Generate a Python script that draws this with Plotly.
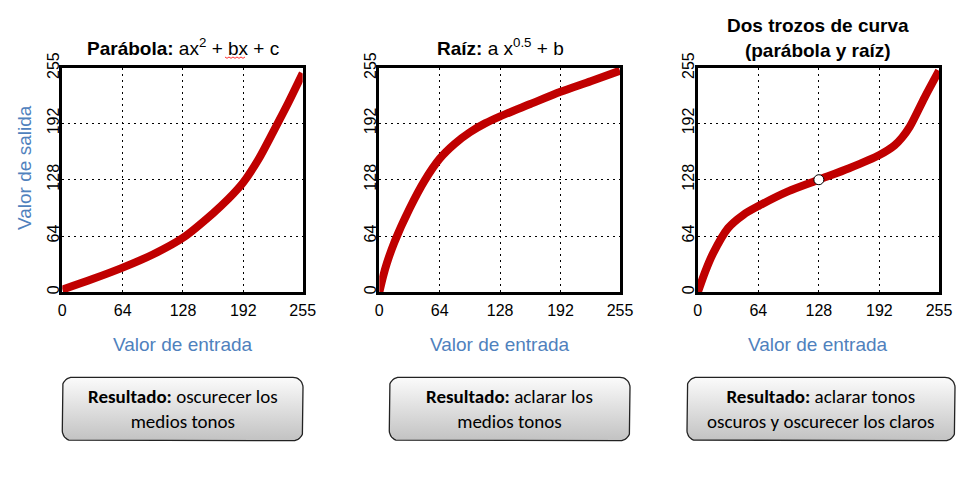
import plotly.graph_objects as go
import numpy as np

# ---------------- data ----------------
ticks = [0, 64, 128, 192, 255]

x_parabola = [0, 32, 64, 96, 128, 160, 176, 192, 208, 224, 240, 255]
y_parabola = [3, 15, 28, 43, 62, 90, 106, 125, 151, 183, 216, 249]

x_raiz = [0, 4, 8, 16, 32, 48, 64, 80, 96, 112, 128, 160, 192, 224, 255]
y_raiz = [0, 18, 33, 57, 95, 127, 152, 169, 182, 192, 200, 214, 228, 240, 252]

x_trozos = [0, 8, 16, 32, 48, 64, 96, 128, 160, 192, 208, 216, 224, 240, 255]
y_trozos = [0, 24, 44, 73, 88, 98, 115, 128, 141, 156, 167, 176, 188, 222, 252]

punto_union = ([128], [128])

titulos = [
    "<b>Parábola:</b> ax<sup>2</sup> + bx + c",
    "<b>Raíz:</b> a x<sup>0.5</sup> + b",
    "<b>Dos trozos de curva<br>(parábola y raíz)</b>",
]
titulo_x = "Valor de entrada"
titulo_y = "Valor de salida"
resultados = [
    "<b>Resultado:</b> oscurecer los<br>medios tonos",
    "<b>Resultado:</b> aclarar los<br>medios tonos",
    "<b>Resultado:</b> aclarar tonos<br>oscuros y oscurecer los claros",
]

# ---------------- layout helpers ----------------
W, H = 964, 477
def px(x):
    return x / W
def py(y):
    return 1 - y / H

panels = [(62.3, 302.7), (379.3, 620.0), (697.8, 939.0)]
ptop, pbot = 68.0, 292.3
boxes = [(62.3, 303.0), (389.3, 630.0), (687.0, 955.0)]
btop, bbot = 377.3, 440.7

RED = "#C00000"
BLUE = "#4F81BD"
FONT = "Liberation Sans, Arial, sans-serif"
BOXFONT = "Carlito, Liberation Sans Narrow, Open Sans, sans-serif"

fig = go.Figure()

series = [(x_parabola, y_parabola), (x_raiz, y_raiz), (x_trozos, y_trozos)]
for i, (xs, ys) in enumerate(series):
    n = "" if i == 0 else str(i + 1)
    fig.add_trace(go.Scatter(x=xs, y=ys, mode="lines",
                             line=dict(color=RED, width=8, shape="spline", smoothing=0.8),
                             xaxis="x" + n, yaxis="y" + n, showlegend=False, hoverinfo="skip"))

fig.add_trace(go.Scatter(x=punto_union[0], y=punto_union[1], mode="markers",
                         marker=dict(color="white", size=10, line=dict(color="black", width=1)),
                         xaxis="x3", yaxis="y3", showlegend=False, hoverinfo="skip"))

# rounded gradient boxes on a pixel overlay axis
def rounded_rect(x0, y0, x1, y1, r):
    pts = []
    corners = [(x1 - r, y0 + r, -90, 0), (x1 - r, y1 - r, 0, 90),
               (x0 + r, y1 - r, 90, 180), (x0 + r, y0 + r, 180, 270)]
    for cx, cy, a0, a1 in corners:
        for a in np.linspace(np.radians(a0), np.radians(a1), 10):
            pts.append((cx + r * np.cos(a), cy + r * np.sin(a)))
    pts.append(pts[0])
    return [p[0] for p in pts], [p[1] for p in pts]

for (bx0, bx1) in boxes:
    xs, ys = rounded_rect(bx0, btop, bx1, bbot, 10)
    fig.add_trace(go.Scatter(x=xs, y=ys, mode="lines", fill="toself",
                             line=dict(color="#222222", width=1.3),
                             fillgradient=dict(type="vertical", start=btop, stop=bbot,
                                               colorscale=[[0, "#FBFBFB"], [1, "#C2C2C2"]]),
                             xaxis="x4", yaxis="y4", showlegend=False, hoverinfo="skip"))

axis_common = dict(range=[0, 255], tickvals=ticks, ticktext=[str(t) for t in ticks],
                   showgrid=True, gridcolor="black", gridwidth=1.3, griddash="2px,4px",
                   zeroline=False, showline=True, linecolor="black", linewidth=3, mirror=True,
                   ticks="", tickfont=dict(family=FONT, size=16, color="black"),
                   fixedrange=True, automargin=False)

layout = dict(width=W, height=H, margin=dict(l=0, r=0, t=0, b=0, pad=0, autoexpand=False),
              paper_bgcolor="white", plot_bgcolor="rgba(0,0,0,0)", showlegend=False)

for i, (x0, x1) in enumerate(panels):
    n = "" if i == 0 else str(i + 1)
    layout["xaxis" + n] = dict(axis_common, domain=[px(x0), px(x1)], anchor="y" + n,
                               ticklabelstandoff=1)
    layout["yaxis" + n] = dict(axis_common, domain=[py(pbot), py(ptop)], anchor="x" + n,
                               tickangle=-90, ticklabelstandoff=-6)

layout["xaxis4"] = dict(domain=[0, 1], range=[0, W], visible=False, anchor="y4",
                        fixedrange=True, automargin=False)
layout["yaxis4"] = dict(domain=[0, 1], range=[H, 0], visible=False, anchor="x4",
                        fixedrange=True, automargin=False)

fig.update_layout(**layout)

ann = []
# titles
tpos = [(183, 47), (500, 47), (818, 38)]
for t, (tx, ty) in zip(titulos, tpos):
    ann.append(dict(text=t, x=px(tx), y=py(ty), xref="paper", yref="paper",
                    showarrow=False, xanchor="center", yanchor="middle",
                    font=dict(family=FONT, size=19, color="black")))
# x axis titles
for (x0, x1) in panels:
    ann.append(dict(text=titulo_x, x=px((x0 + x1) / 2), y=py(344), xref="paper", yref="paper",
                    showarrow=False, xanchor="center", yanchor="middle",
                    font=dict(family=FONT, size=19, color=BLUE)))
# y axis title
ann.append(dict(text=titulo_y, x=px(25), y=py(168), xref="paper", yref="paper",
                showarrow=False, xanchor="center", yanchor="middle", textangle=-90,
                font=dict(family=FONT, size=19, color=BLUE)))
# result boxes text
for t, (bx0, bx1) in zip(resultados, boxes):
    ann.append(dict(text=t, x=px((bx0 + bx1) / 2), y=py((btop + bbot) / 2), xref="paper",
                    yref="paper", showarrow=False, xanchor="center", yanchor="middle",
                    align="center", font=dict(family=BOXFONT, size=19, color="black")))
fig.update_layout(annotations=ann)

# spell-check squiggle under "bx"
sq_x = np.linspace(225, 245, 11)
sq_y = [57.3 + (1 if k % 2 else -0.3) for k in range(11)]
path = "M " + " L ".join(f"{px(a):.5f},{py(b):.5f}" for a, b in zip(sq_x, sq_y))
fig.add_shape(type="path", path=path, xref="paper", yref="paper",
              line=dict(color="#FF3030", width=1))

fig.write_html("out.html")
